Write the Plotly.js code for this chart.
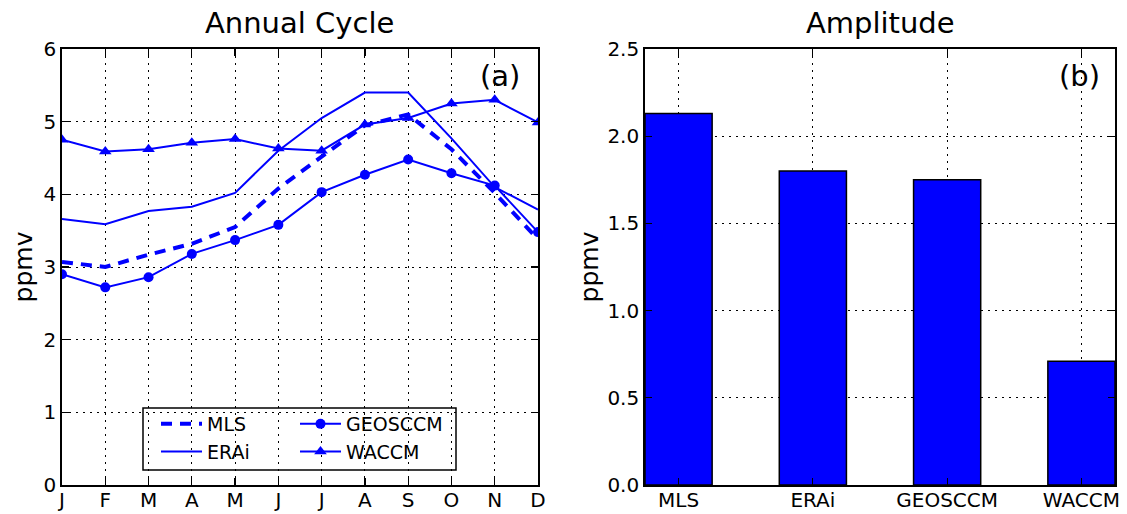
<!DOCTYPE html>
<html><head><meta charset="utf-8">
<script src="https://cdn.plot.ly/plotly-3.0.1.min.js"></script>
<style>body{margin:0;background:#fff}#c{width:1127px;height:514px}</style>
</head><body><div id="c"></div>
<script>
const months = ['J','F','M','A','M','J','J','A','S','O','N','D'];
const monthIdx = [0,1,2,3,4,5,6,7,8,9,10,11];
const mls     = [3.07,3.00,3.17,3.32,3.55,4.08,4.52,4.95,5.10,4.62,4.02,3.38];
const erai    = [3.66,3.59,3.77,3.83,4.02,4.60,5.05,5.40,5.40,4.77,4.10,3.79];
const geosccm = [2.90,2.72,2.86,3.18,3.37,3.58,4.03,4.27,4.48,4.29,4.12,3.48];
const waccm   = [4.75,4.59,4.62,4.71,4.76,4.63,4.60,4.96,5.05,5.25,5.30,4.99];
const models  = ['MLS','ERAi','GEOSCCM','WACCM'];
const amplitude = [2.13,1.80,1.75,0.71];

const blue = '#0000ff';
const W = 1127, H = 514;
const FAM = 'DejaVu Sans';

const traces = [
  {x:monthIdx, y:mls, name:'MLS', mode:'lines', line:{color:blue,width:4,dash:'11px,8px'}, legend:'legend'},
  {x:monthIdx, y:erai, name:'ERAi', mode:'lines', line:{color:blue,width:2}, legend:'legend'},
  {x:monthIdx, y:geosccm, name:'GEOSCCM', mode:'lines+markers', line:{color:blue,width:2}, marker:{symbol:'circle',size:10,color:blue}, legend:'legend2'},
  {x:monthIdx, y:waccm, name:'WACCM', mode:'lines+markers', line:{color:blue,width:2}, marker:{symbol:'triangle-up',size:11,color:blue}, legend:'legend2'},
  {x:[0,1,2,3], y:amplitude, type:'bar', xaxis:'x2', yaxis:'y2', width:0.5, marker:{color:blue, line:{color:'#000',width:1.5}}, showlegend:false}
];

function ax(extra){
  return Object.assign({showline:true, linecolor:'#000', linewidth:1.8, mirror:'ticks', ticks:'inside', ticklen:7, tickwidth:1.2, tickcolor:'#000',
    showgrid:true, gridcolor:'#000', griddash:'2px,5px', gridwidth:1, zeroline:false,
    tickfont:{family:FAM, size:20, color:'#000'}}, extra);
}
function leg(extra){
  return Object.assign({bgcolor:'rgba(0,0,0,0)', borderwidth:0, font:{family:FAM,size:19,color:'#000'}, tracegroupgap:0, itemwidth:41, yanchor:'top', xanchor:'left'}, extra);
}
const legTop = 1-(405-49)/436;

const layout = {
  width:W, height:H, margin:{l:0,r:0,t:49,b:29}, paper_bgcolor:'#fff', plot_bgcolor:'#fff', font:{family:FAM, color:'#000'},
  xaxis:ax({domain:[62/W,538/W], range:[0,11], tickmode:'array', tickvals:monthIdx, ticktext:months, ticklabelstandoff:-4}),
  yaxis:ax({domain:[0,1], range:[0,6], dtick:1, title:{text:'ppmv', font:{family:FAM,size:25}, standoff:4}}),
  xaxis2:ax({domain:[645/W,1115/W], range:[-0.25,3.25], tickmode:'array', tickvals:[0,1,2,3], ticktext:models, anchor:'y2', ticklabelstandoff:-4}),
  yaxis2:ax({domain:[0,1], range:[0,2.5], dtick:0.5, tickformat:'.1f', anchor:'x2', title:{text:'ppmv', font:{family:FAM,size:25}, standoff:2}}),
  legend:leg({x:156/W, y:legTop}),
  legend2:leg({x:295/W, y:legTop}),
  shapes:[{type:'rect', xref:'paper', yref:'paper', x0:143/W, x1:456/W, y0:(485-470)/436, y1:(485-408)/436, line:{color:'#000',width:1.5}, fillcolor:'rgba(0,0,0,0)'}],
  annotations:[
    {text:'Annual Cycle', xref:'paper', yref:'paper', x:299/W, xanchor:'center', y:1, yanchor:'bottom', yshift:7, showarrow:false, font:{family:FAM,size:29}},
    {text:'Amplitude', xref:'paper', yref:'paper', x:880/W, xanchor:'center', y:1, yanchor:'bottom', yshift:7, showarrow:false, font:{family:FAM,size:29}},
    {text:'(a)', xref:'paper', yref:'paper', x:522/W, y:1, xanchor:'right', yanchor:'top', yshift:-8, showarrow:false, font:{family:FAM,size:29}},
    {text:'(b)', xref:'paper', yref:'paper', x:1102/W, y:1, xanchor:'right', yanchor:'top', yshift:-8, showarrow:false, font:{family:FAM,size:29}}
  ]
};

Plotly.newPlot('c', traces, layout, {displayModeBar:false, staticPlot:true});
</script></body></html>
